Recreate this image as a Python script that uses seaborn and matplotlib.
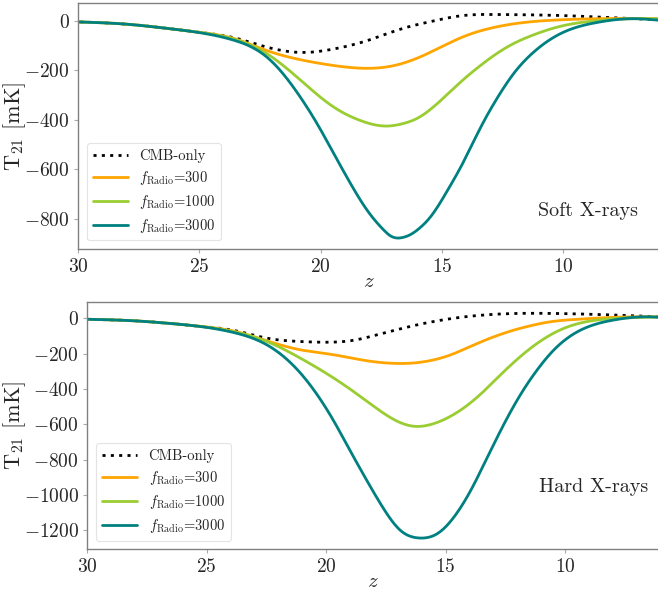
import numpy as np
import pandas as pd
import matplotlib
matplotlib.use("Agg")
import matplotlib.pyplot as plt
import seaborn as sns

# ---- 21-cm brightness temperature, soft X-ray heating ----
z_soft_cmb = [30.0, 28.0, 26.5, 25.0, 23.6, 22.2, 20.8, 19.45, 18.1, 16.7, 15.3, 14.2, 12.7, 11.0, 9.0, 7.5, 6.05]
T_soft_cmb = [-5, -14, -29, -47, -68, -107, -128, -114, -81, -34, 0, 20, 25, 23, 17, 10, 4]

z_soft_300 = [30.0, 28.0, 26.5, 25.0, 23.6, 22.2, 20.8, 19.45, 18.2, 16.97, 15.55, 14.15, 12.7, 11.3, 10.0, 8.6, 7.2, 6.05]
T_soft_300 = [-5, -14, -29, -47, -71, -121, -158, -181, -192, -181, -131, -66, -24, -4, 4, 8, 9, 8]

z_soft_1000 = [30.0, 28.0, 26.5, 25.0, 23.6, 22.2, 20.8, 19.45, 18.35, 17.3, 16.6, 16.0, 15.4, 14.2, 13.4, 12.7, 12.0, 11.3, 10.0, 8.6, 7.2, 6.05]
T_soft_1000 = [-5, -14, -29, -47, -73, -134, -242, -349, -403, -425, -415, -393, -352, -245, -180, -130, -90, -60, -20, 0, 8, 8]

z_soft_3000 = [30.0, 28.0, 26.5, 25.0, 23.6, 22.2, 20.83, 20.14, 19.45, 18.76, 18.07, 17.38, 17.15, 16.9, 16.6, 16.3, 15.9, 15.5, 14.77, 14.08, 13.4, 12.7, 12.0, 11.3, 10.0, 8.6, 7.2, 6.05]
T_soft_3000 = [-5, -14, -29, -48, -78, -148, -309, -416, -537, -658, -766, -846, -866, -876, -874, -863, -835, -795, -685, -564, -430, -309, -208, -134, -47, -7, 8, 2]

# ---- 21-cm brightness temperature, hard X-ray heating ----
z_hard_cmb = [30.0, 28.0, 26.5, 25.27, 23.87, 22.48, 21.08, 19.96, 19.0, 17.6, 16.2, 15.0, 13.5, 12.0, 10.5, 8.6, 6.05]
T_hard_cmb = [-5, -14, -29, -45, -68, -112, -131, -135, -127, -84, -37, -6, 18, 28, 28, 22, 9]

z_hard_300 = [30.0, 28.0, 26.5, 25.27, 23.87, 22.48, 21.08, 19.68, 18.29, 17.03, 16.3, 15.6, 14.9, 14.2, 13.53, 12.83, 12.13, 11.45, 10.74, 9.35, 7.95, 6.55, 6.05]
T_hard_300 = [-5, -14, -29, -45, -72, -127, -178, -206, -240, -255, -252, -238, -212, -174, -134, -97, -66, -42, -22, -4, 6, 9, 9]

z_hard_1000 = [30.0, 28.0, 26.5, 25.27, 23.87, 22.48, 21.08, 19.68, 18.29, 17.17, 16.3, 15.6, 14.9, 14.23, 13.5, 12.83, 11.44, 10.04, 8.64, 7.24, 6.05]
T_hard_1000 = [-5, -14, -29, -45, -75, -131, -225, -338, -469, -572, -611, -600, -562, -506, -425, -337, -169, -56, -9, 4, 9]

z_hard_3000 = [30.0, 28.0, 26.5, 25.27, 23.87, 22.48, 21.08, 20.38, 19.68, 18.99, 18.29, 17.59, 16.89, 16.12, 15.35, 14.65, 13.95, 13.25, 12.56, 11.86, 11.16, 10.46, 9.34, 7.95, 6.55, 6.05]
T_hard_3000 = [-5, -14, -29, -46, -80, -150, -309, -431, -581, -750, -919, -1078, -1200, -1243, -1219, -1125, -975, -787, -600, -431, -291, -178, -66, -9, 9, 6]

series_names = ["CMB-only", r"$f_{\rm Radio}$=300", r"$f_{\rm Radio}$=1000", r"$f_{\rm Radio}$=3000"]
series_colors = ["black", "orange", "yellowgreen", "teal"]
panel_titles = ["Soft X-rays", "Hard X-rays"]
yticks_soft = [0, -200, -400, -600, -800]
yticks_hard = [0, -200, -400, -600, -800, -1000, -1200]
xticks = [30, 25, 20, 15, 10]

sns.set_theme(style="white")
plt.rcParams.update({
    "font.family": "cmr10",
    "mathtext.fontset": "cm",
    "axes.formatter.use_mathtext": True,
    "axes.edgecolor": "#808080",
    "axes.linewidth": 1.0,
    "xtick.color": "#aaaaaa",
    "ytick.color": "#aaaaaa",
    "xtick.labelcolor": "#262626",
    "ytick.labelcolor": "#262626",
    "xtick.major.size": 3,
    "ytick.major.size": 3,
    "xtick.major.width": 0.8,
    "ytick.major.width": 0.8,
    "xtick.major.pad": 3,
    "ytick.major.pad": 3,
    "xtick.bottom": True,
    "ytick.left": True,
    "xtick.direction": "out",
    "ytick.direction": "out",
})

fig = plt.figure(figsize=(6.58, 5.92), dpi=100)
ax_top = fig.add_axes([78 / 658, 0.579, 581 / 658, 0.4155])
ax_bot = fig.add_axes([87.3 / 658, 0.0721, 572 / 658, 0.4177])


def natural_spline(x, y, xn):
    """Natural cubic spline through (x, y), evaluated at xn (x ascending)."""
    x = np.asarray(x, float)
    y = np.asarray(y, float)
    n = len(x)
    h = np.diff(x)
    A = np.zeros((n, n))
    b = np.zeros(n)
    A[0, 0] = A[-1, -1] = 1.0
    for i in range(1, n - 1):
        A[i, i - 1] = h[i - 1]
        A[i, i] = 2 * (h[i - 1] + h[i])
        A[i, i + 1] = h[i]
        b[i] = 6 * ((y[i + 1] - y[i]) / h[i] - (y[i] - y[i - 1]) / h[i - 1])
    M = np.linalg.solve(A, b)
    idx = np.clip(np.searchsorted(x, xn) - 1, 0, n - 2)
    t0 = x[idx + 1] - xn
    t1 = xn - x[idx]
    hi = h[idx]
    return (M[idx] * t0**3 + M[idx + 1] * t1**3) / (6 * hi) \
        + (y[idx] / hi - M[idx] * hi / 6) * t0 + (y[idx + 1] / hi - M[idx + 1] * hi / 6) * t1


def curve_frame(z, T, name):
    zs = np.asarray(z, float)[::-1]
    Ts = np.asarray(T, float)[::-1]
    zn = np.linspace(zs[0], zs[-1], 600)
    return pd.DataFrame({"z": zn, "T": natural_spline(zs, Ts, zn), "series": name})


panels = [
    (ax_top,
     [(z_soft_cmb, T_soft_cmb), (z_soft_300, T_soft_300), (z_soft_1000, T_soft_1000), (z_soft_3000, T_soft_3000)],
     panel_titles[0], (0.964, 0.155), (28 - 78) / 581, yticks_soft),
    (ax_bot,
     [(z_hard_cmb, T_hard_cmb), (z_hard_300, T_hard_300), (z_hard_1000, T_hard_1000), (z_hard_3000, T_hard_3000)],
     panel_titles[1], (0.98, 0.25), (28 - 87.3) / 572, yticks_hard),
]

for ax, curves, title, pos, ylab_x, yt in panels:
    df = pd.concat([curve_frame(z, T, nm) for (z, T), nm in zip(curves, series_names)])
    sns.lineplot(data=df, x="z", y="T", hue="series", style="series",
                 palette=dict(zip(series_names, series_colors)),
                 dashes={series_names[0]: (1.1, 1.9), series_names[1]: "",
                         series_names[2]: "", series_names[3]: ""},
                 linewidth=2.0, ax=ax, sort=False, estimator=None)
    ax.set_xlim(30, 6.05)
    ax.set_xticks(xticks)
    ax.set_yticks(yt)
    ax.set_xlabel(r"$z$", fontsize=15, labelpad=-2)
    ax.set_ylabel(r"$\mathrm{T}_{21}$ [mK]", fontsize=16)
    ax.yaxis.set_label_coords(ylab_x, 0.5)
    ax.tick_params(labelsize=14)
    ax.text(pos[0], pos[1], title, transform=ax.transAxes, ha="right", va="center", fontsize=14.5)
    leg = ax.legend(loc="lower left", fontsize=10.5, frameon=True, handlelength=2.4,
                    borderaxespad=0.6, labelspacing=0.4, handletextpad=0.8)
    leg.get_frame().set_edgecolor("#dddddd")
    leg.get_frame().set_linewidth(0.8)
    for s in ax.spines.values():
        s.set_visible(True)

fig.savefig("out.png", dpi=100)
